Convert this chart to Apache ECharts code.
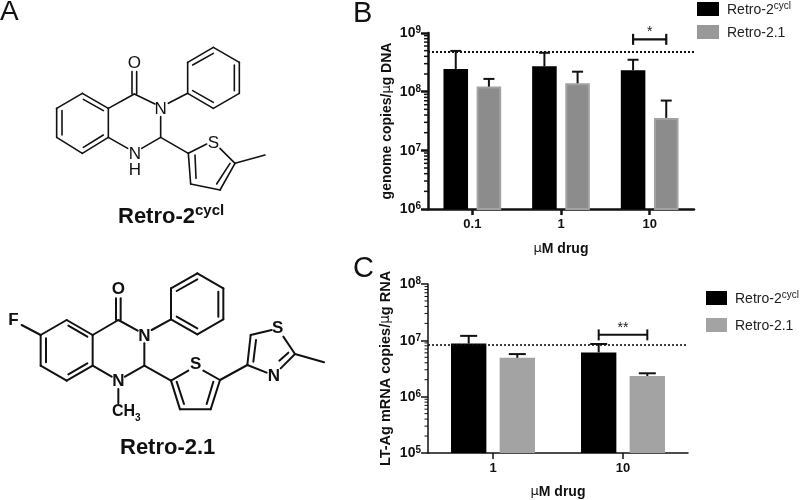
<!DOCTYPE html>
<html>
<head>
<meta charset="utf-8">
<style>html,body{margin:0;padding:0;background:#fff}#c{width:800px;height:500px}</style>
<script src="https://cdn.jsdelivr.net/npm/echarts@6/dist/echarts.min.js"></script>
</head>
<body>
<div id="c"></div>
<script>
// ---- data ----
const seriesNames = ['Retro-2cycl', 'Retro-2.1'];
const categoriesB = ['0.1', '1', '10'];
const cyclB = [2.44e8, 2.71e8, 2.32e8];
const cyclErrB = [4.95e8, 4.6e8, 3.5e8];
const r21B = [1.22e8, 1.39e8, 3.57e7];
const r21ErrB = [1.65e8, 2.19e8, 7.05e7];
const refLineB = 4.8e8;
const sigB = [2, 7.8e8, '*'];

const categoriesC = ['1', '10'];
const cyclC = [8.76e6, 6.1e6];
const cyclErrC = [1.2e7, 8.6e6];
const r21C = [4.9e6, 2.33e6];
const r21ErrC = [5.7e6, 2.6e6];
const refLineC = 8.3e6;
const sigC = [1, 1.25e7, '**'];

const decadesB = [6, 7, 8];
const decadesC = [5, 6, 7];
const minorFactors = [2, 3, 4, 5, 6, 7, 8, 9];

// ---- helpers ----
const FONT = '"Liberation Sans", Arial, sans-serif';
const BAR_SHIFT = 0.187;
const minorValues = d => d.flatMap(e => minorFactors.map(f => [0, f * Math.pow(10, e)]));

const tickRich = {
  b: {fontFamily: FONT, fontWeight: 'bold', fontSize: 14, color: '#111', verticalAlign: 'bottom', lineHeight: 15},
  s: {fontFamily: FONT, fontWeight: 'bold', fontSize: 10, color: '#111', verticalAlign: 'top', lineHeight: 15, padding: [0, 0, 5, 0]}
};
const nameRich = size => ({
  t: {fontFamily: FONT, fontWeight: 'bold', fontSize: size, color: '#111'},
  m: {fontFamily: 'DejaVu Sans', fontWeight: 'normal', fontSize: size - 1, color: '#111'}
});
const expLabel = v => '{b|10}{s|' + Math.round(Math.log10(v)) + '}';

function errSeries(gridIdx, values, sign, capW, lineW, color) {
  return {
    type: 'custom', name: 'err', xAxisIndex: gridIdx, yAxisIndex: gridIdx, z: 3, silent: true,
    data: values.map((v, i) => [i, v[0], v[1]]),
    encode: {x: 0, y: 2},
    clip: false,
    renderItem(params, api) {
      const band = api.size([1, 0])[0];
      const base = api.coord([api.value(0), api.value(1)]);
      const top = api.coord([api.value(0), api.value(2)]);
      const x = base[0] + sign * BAR_SHIFT * band;
      const style = {stroke: color, lineWidth: lineW, fill: null};
      return {type: 'group', children: [
        {type: 'line', shape: {x1: x, y1: base[1], x2: x, y2: top[1]}, style},
        {type: 'line', shape: {x1: x - capW / 2, y1: top[1], x2: x + capW / 2, y2: top[1]}, style}
      ]};
    }
  };
}
function sigSeries(gridIdx, sig, lineW, fs) {
  return {
    type: 'custom', name: 'sig', xAxisIndex: gridIdx, yAxisIndex: gridIdx, z: 4, silent: true, clip: false,
    data: [[sig[0], sig[1]]],
    encode: {x: 0, y: 1},
    renderItem(params, api) {
      const band = api.size([1, 0])[0];
      const c = api.coord([api.value(0), api.value(1)]);
      const x1 = c[0] - BAR_SHIFT * band, x2 = c[0] + BAR_SHIFT * band, y = c[1];
      const style = {stroke: '#111', lineWidth: lineW, fill: null};
      return {type: 'group', children: [
        {type: 'line', shape: {x1, y1: y, x2, y2: y}, style},
        {type: 'line', shape: {x1, y1: y - 5.5, x2: x1, y2: y + 5.5}, style},
        {type: 'line', shape: {x1: x2, y1: y - 5.5, x2, y2: y + 5.5}, style},
        {type: 'text', style: {x: c[0], y: y - 7, text: sig[2], fill: '#222', font: fs + 'px ' + FONT, align: 'center', verticalAlign: 'middle'}}
      ]};
    }
  };
}
function minorSeries(gridIdx, vals, len, w) {
  return {
    type: 'custom', name: 'minor', xAxisIndex: gridIdx, yAxisIndex: gridIdx, silent: true, clip: false, z: 2,
    data: vals, encode: {x: 0, y: 1},
    renderItem(params, api) {
      const y = api.coord([0, api.value(1)])[1];
      const x = params.coordSys.x;
      return {type: 'line', shape: {x1: x - len, y1: y, x2: x, y2: y}, style: {stroke: '#111', lineWidth: w}};
    }
  };
}
function barSeries(gridIdx, name, values, color, border, width, gap, ref, refW) {
  const s = {
    type: 'bar', name, xAxisIndex: gridIdx, yAxisIndex: gridIdx, data: values,
    barWidth: width, barGap: gap, z: 2,
    itemStyle: {color, borderColor: border, borderWidth: border === color ? 0 : 2}
  };
  if (ref) {
    s.markLine = {silent: true, symbol: 'none', animation: false, label: {show: false},
      lineStyle: {color: '#111', type: [2, 2], width: refW},
      data: [{yAxis: ref}]};
  }
  return s;
}
function xAxis(idx, cats, w, fs, gap) {
  return {
    type: 'category', gridIndex: idx, data: cats,
    axisLine: {show: true, onZero: false, lineStyle: {color: '#111', width: w}},
    axisTick: {show: true, alignWithLabel: true, length: 6, lineStyle: {color: '#111', width: w}},
    axisLabel: {fontFamily: FONT, fontWeight: 'bold', fontSize: fs, color: '#111', margin: 9},
    splitLine: {show: false},
    name: '{m|\u03bc}{t|M drug}', nameLocation: 'middle', nameGap: gap,
    nameTextStyle: {rich: nameRich(14)}
  };
}
function yAxis(idx, min, max, w, name, nameSize, gap) {
  return {
    type: 'log', logBase: 10, gridIndex: idx, min, max,
    axisLine: {show: true, onZero: false, lineStyle: {color: '#111', width: w}},
    axisTick: {show: true, length: 7, lineStyle: {color: '#111', width: w}},
    minorTick: {show: false}, splitLine: {show: false}, minorSplitLine: {show: false},
    axisLabel: {formatter: expLabel, rich: tickRich, margin: 7},
    name, nameLocation: 'middle', nameGap: gap, nameRotate: 90,
    nameTextStyle: {rich: nameRich(nameSize)}
  };
}
const legendRich = {
  a: {fontFamily: FONT, fontSize: 14, color: '#222', verticalAlign: 'bottom', lineHeight: 16},
  s: {fontFamily: FONT, fontSize: 10, color: '#222', verticalAlign: 'top', lineHeight: 16, padding: [0, 0, 4, 0]}
};
const legendFmt = n => n === 'Retro-2cycl' ? '{a|Retro-2}{s|cycl}' : '{a|' + n + '}';
function legend(left, top, w, h, gap, gray) {
  return {
    left, top, orient: 'vertical', itemWidth: w, itemHeight: h, itemGap: gap, padding: 0,
    icon: 'rect', selectedMode: false, formatter: legendFmt,
    textStyle: {rich: legendRich, padding: [0, 0, 0, 3]},
    data: [
      {name: seriesNames[0], itemStyle: {color: '#000', borderWidth: 0}},
      {name: seriesNames[1], itemStyle: {color: gray, borderWidth: 0}}
    ]
  };
}

// ---- structure drawings (zoom-crop units, one third of a pixel) ----
function drawing(ox, oy, bonds, w) {
  return bonds.map(b => ({
    type: 'line', silent: true,
    shape: {x1: ox + b[0] / 3, y1: oy + b[1] / 3, x2: ox + b[2] / 3, y2: oy + b[3] / 3},
    style: {stroke: '#111', lineWidth: w, lineCap: 'round'}
  }));
}
function atoms(ox, oy, list, font) {
  return list.map(a => ({
    type: 'text', silent: true, x: ox + a[1] / 3, y: oy + a[2] / 3,
    style: {text: a[0], font, fill: '#111', align: 'center', verticalAlign: 'middle'}
  }));
}
const bondsA = [
  [247,280,325,325],[325,325,325,412],[325,412,247,460],[247,460,170,412],[170,412,170,325],[170,325,247,280],
  [250,298,310,332],[186,332,186,405],[250,442,310,405],
  [325,325,403,282],[396,282,396,215],[410,282,410,215],[403,282,465,312],[505,310,563,280],
  [482,350,482,412],[482,412,425,445],[325,412,383,445],
  [563,280,563,187],[563,187,640,142],[640,142,718,187],[718,187,718,280],[718,280,640,325],[640,325,563,280],
  [578,195,640,160],[703,195,703,272],[578,272,640,307],
  [482,412,565,460],[565,460,620,432],[660,445,705,490],[705,490,660,570],[660,570,572,552],[572,552,565,460],
  [585,465,588,535],[650,552,690,490],[705,490,795,465]
];
const atomsA = [['O',403,190],['N',482,327],['N',405,462],['H',405,512],['S',640,430]];
const bondsB = [
  [200,240,278,285],[278,285,278,377],[278,377,200,422],[200,422,122,377],[122,377,122,285],[122,285,200,240],
  [205,257,262,290],[138,295,138,367],[205,403,262,370],
  [65,255,122,285],[278,285,355,240],[348,240,348,175],[362,240,362,175],[355,240,413,272],[455,270,513,238],
  [513,238,513,145],[513,145,592,100],[592,100,670,145],[670,145,670,238],[670,238,592,283],[592,283,513,238],
  [530,153,592,118],[655,155,655,230],[530,230,592,265],
  [433,310,433,377],[433,377,375,410],[278,377,335,410],[355,447,355,490],
  [433,377,513,422],[513,422,565,392],[610,392,660,420],[660,420,632,508],[632,508,540,508],[540,508,513,422],
  [530,425,552,492],[640,425,620,492],
  [660,420,742,375],[742,375,752,285],[752,285,815,270],[850,290,885,342],[885,342,842,385],[800,398,742,375],
  [760,365,768,300],[838,362,865,338],[885,342,972,367]
];
const atomsB = [['F',40,240],['O',355,148],['N',433,288],['N',355,425],['S',587,372],['S',833,265],['N',822,410]];

const graphics = [].concat(
  drawing(0, 0, bondsA, 1.6), atoms(0, 0, atomsA, '17px ' + FONT),
  drawing(0, 240, bondsB, 2), atoms(0, 240, atomsB, 'bold 17px ' + FONT),
  [
    {type: 'text', silent: true, x: 112, y: 412, style: {text: 'CH', font: 'bold 16px ' + FONT, fill: '#111', verticalAlign: 'middle'}},
    {type: 'text', silent: true, x: 135, y: 418, style: {text: '3', font: 'bold 10px ' + FONT, fill: '#111', verticalAlign: 'middle'}},
    {type: 'text', silent: true, x: 118, y: 203, style: {
      text: '{b|Retro-2}{s|cycl}',
      rich: {
        b: {font: 'bold 22px ' + FONT, fill: '#111', verticalAlign: 'bottom', lineHeight: 25},
        s: {font: 'bold 15px ' + FONT, fill: '#111', verticalAlign: 'top', lineHeight: 25, padding: [0, 0, 6, 0]}
      }
    }},
    {type: 'text', silent: true, x: 120, y: 437, style: {text: 'Retro-2.1', font: 'bold 22px ' + FONT, fill: '#111'}},
    {type: 'text', silent: true, x: 0, y: -2, style: {text: 'A', font: '28px ' + FONT, fill: '#111'}},
    {type: 'text', silent: true, x: 353, y: -1, style: {text: 'B', font: '29px ' + FONT, fill: '#111'}},
    {type: 'text', silent: true, x: 353, y: 254, style: {text: 'C', font: '29px ' + FONT, fill: '#111'}}
  ]
);

// ---- chart ----
const chart = echarts.init(document.getElementById('c'));
chart.setOption({
  animation: false,
  backgroundColor: '#fff',
  textStyle: {fontFamily: FONT},
  grid: [
    {left: 428, top: 33, width: 266, height: 176},
    {left: 428, top: 284, width: 260, height: 174}
  ],
  xAxis: [xAxis(0, categoriesB, 2.5, 13, 33), xAxis(1, categoriesC, 1.5, 13, 32)],
  yAxis: [
    yAxis(0, 1e6, 1e9, 2.5, '{t|genome copies/}{m|\u03bc}{t|g DNA}', 14, 34),
    yAxis(1, 1e5, 1e8, 1.5, '{t|LT-Ag mRNA copies/}{m|\u03bc}{t|g RNA}', 14.5, 35)
  ],
  legend: [legend(697, 1, 22, 14, 8, '#999999'), legend(706, 290, 21, 14, 12, '#a3a3a3')],
  series: [
    barSeries(0, seriesNames[0], cyclB, '#000', '#000', '27.7%', '35%', refLineB, 2),
    barSeries(0, seriesNames[1], r21B, '#8c8c8c', '#a2a2a2', '27.7%', '35%'),
    barSeries(1, seriesNames[0], cyclC, '#000', '#000', '27.2%', '37.5%', refLineC, 1.6),
    barSeries(1, seriesNames[1], r21C, '#a3a3a3', '#a3a3a3', '27.2%', '37.5%'),
    errSeries(0, cyclB.map((v, i) => [v, cyclErrB[i]]), -1, 11, 2, '#111'),
    errSeries(0, r21B.map((v, i) => [v, r21ErrB[i]]), 1, 11, 2, '#111'),
    errSeries(1, cyclC.map((v, i) => [v, cyclErrC[i]]), -1, 17, 2, '#111'),
    errSeries(1, r21C.map((v, i) => [v, r21ErrC[i]]), 1, 17, 2, '#111'),
    sigSeries(0, sigB, 2.2, 14),
    sigSeries(1, sigC, 2, 14),
    minorSeries(0, minorValues(decadesB), 4, 1.5),
    minorSeries(1, minorValues(decadesC), 3.5, 1)
  ],
  graphic: {elements: graphics}
});
</script>
</body>
</html>
